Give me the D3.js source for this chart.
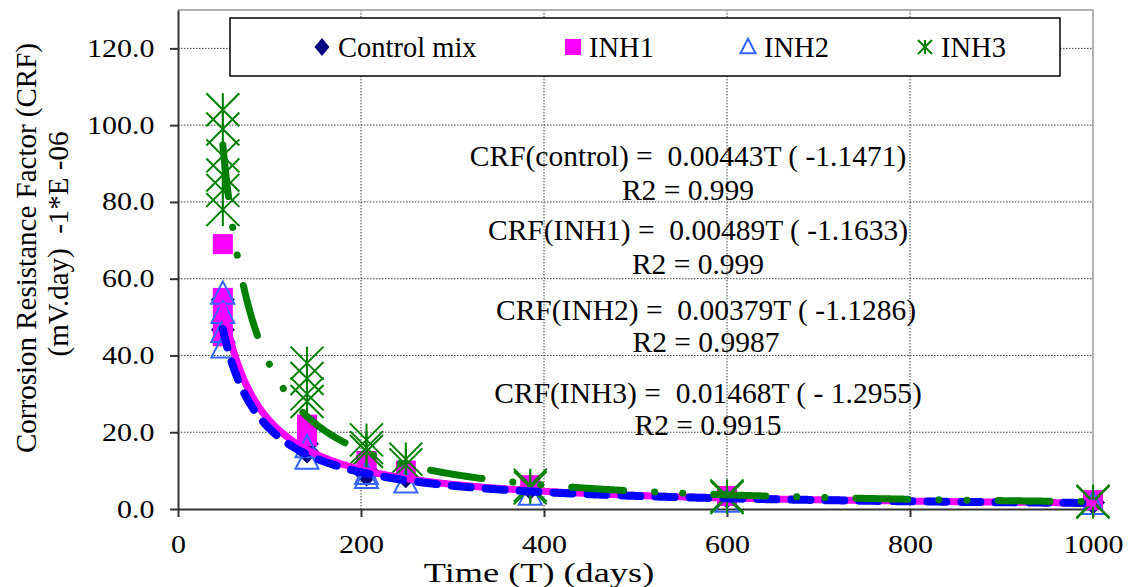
<!DOCTYPE html>
<html>
<head>
<meta charset="utf-8">
<script src="https://cdn.jsdelivr.net/npm/d3@7"></script>
<style>
	body { margin: 0; background: #fff; }
	text { font-family: "Liberation Serif", "Times New Roman", serif; fill: #000; }
</style>
</head>
<body>
<svg id="chart" width="1128" height="587"></svg>
<script>
// tick labels
const xTicks = [0, 200, 400, 600, 800, 1000];
const yTicks = [0, 20, 40, 60, 80, 100, 120];

const controlT   = [49, 49, 141, 141, 206, 206, 249, 385, 600, 1000];
const controlCRF = [54.5, 46.7, 17, 15, 10, 9, 8.5, 5.5, 3.2, 1.7];

const inh1T   = [49, 49, 49, 49, 141, 141, 206, 206, 249, 385, 600, 1000];
const inh1CRF = [69, 55, 50, 45, 22, 19, 12.5, 11.5, 10, 6.2, 3.4, 2.3];

const inh2T   = [49, 49, 49, 49, 141, 141, 206, 206, 249, 385, 600, 1000];
const inh2CRF = [56, 51, 46, 42, 16, 13, 9, 8, 6.8, 3.6, 1.8, 1.2];

const inh3T   = [49, 49, 49, 49, 49, 49, 141, 141, 141, 141, 206, 206, 206, 249, 249, 385, 385, 600, 600, 1000, 1000];
const inh3CRF = [104, 99, 92, 87, 83, 78, 38, 34, 30, 28, 18, 16, 15, 13, 11.5, 6.2, 5.5, 3.4, 3.0, 2.0, 1.8];

// power trendlines CRF = a * T^b, as printed on the chart
const fitA = [0.00443, 0.00489, 0.00379, 0.01468];
const fitB = [-1.1471, -1.1633, -1.1286, -1.2955];
const fitText = [
	"CRF(control) =  0.00443T ( -1.1471)",
	"CRF(INH1) =  0.00489T ( -1.1633)",
	"CRF(INH2) =  0.00379T ( -1.1286)",
	"CRF(INH3) =  0.01468T ( - 1.2955)"
];
const r2Text = ["R2 = 0.999", "R2 = 0.999", "R2 = 0.9987", "R2 = 0.9915"];

const seriesNames = ["Control mix", "INH1", "INH2", "INH3"];

const svg = d3.select("#chart");

const x = d3.scaleLinear().domain([0, 1000]).range([178, 1093]);
const y = d3.scaleLinear().domain([0, 130]).range([509, 10]);

// gridlines
const grid = svg.append("g")
	.attr("stroke", "#444")
	.attr("stroke-width", 1)
	.attr("stroke-dasharray", "1.5,1.5");
grid.selectAll(".gy").data(yTicks.slice(1)).enter()
	.append("line")
		.attr("x1", x(0)).attr("x2", x(1000))
		.attr("y1", (d) => y(d)).attr("y2", (d) => y(d));
grid.selectAll(".gx").data(xTicks.slice(1, -1)).enter()
	.append("line")
		.attr("x1", (d) => x(d)).attr("x2", (d) => x(d))
		.attr("y1", y(130)).attr("y2", y(0));

// plot border (top and right)
svg.append("path")
	.attr("d", `M${x(0)},${y(130)} H${x(1000)} V${y(0)}`)
	.attr("fill", "none")
	.attr("stroke", "#999")
	.attr("stroke-width", 1.5);

// axes
const tickScale = "scale(1.2,1)";
const yAxis = svg.append("g")
	.attr("transform", `translate(${x(0)},0)`)
	.call(d3.axisLeft(y).tickValues(yTicks).tickFormat(d3.format(".1f")).tickSize(8).tickSizeOuter(0));
yAxis.selectAll("text")
	.attr("x", -19.5)
	.attr("font-size", 25)
	.attr("transform", tickScale);

const xAxis = svg.append("g")
	.attr("transform", `translate(0,${y(0)})`)
	.call(d3.axisBottom(x).tickValues(xTicks).tickFormat(d3.format("d")).tickSize(8).tickSizeOuter(0));
xAxis.selectAll("text")
	.attr("y", 44)
	.attr("dy", 0)
	.attr("font-size", 25)
	.attr("transform", tickScale);

svg.selectAll(".domain, .tick line")
	.attr("stroke", "#333")
	.attr("stroke-width", 2);
svg.selectAll(".tick text").attr("font-family", null);

// axis titles
svg.append("text")
	.attr("transform", "translate(539,582) scale(1.32,1)")
	.attr("text-anchor", "middle")
	.attr("font-size", 27.5)
	.text("Time (T) (days)");

svg.append("text")
	.attr("transform", "translate(36,248) rotate(-90)")
	.attr("text-anchor", "middle")
	.attr("font-size", 29)
	.text("Corrosion Resistance Factor (CRF)");
svg.append("text")
	.attr("transform", "translate(68,244) rotate(-90)")
	.attr("text-anchor", "middle")
	.attr("font-size", 29)
	.style("white-space", "pre")
	.text("(mV.day)  -1*E -06");

// marker shapes
const diamond = (w, h) => `M0,${-h / 2}L${w / 2},0L0,${h / 2}L${-w / 2},0Z`;
const square = (s) => `M${-s / 2},${-s / 2}h${s}v${s}h${-s}Z`;
const triangle = (s) => `M0,${-s * 0.55}L${s / 2},${s * 0.42}L${-s / 2},${s * 0.42}Z`;
const star = (s) => {
	const h = s / 2;
	return `M${-h},${-h}L${h},${h}M${h},${-h}L${-h},${h}M0,${-h}L0,${h}`;
};

const styles = [
	{ d: diamond(24, 24), fill: "#000080", stroke: "none", sw: 0, legend: diamond(15, 18) },
	{ d: square(20), fill: "#ff00ff", stroke: "none", sw: 0, legend: square(16) },
	{ d: triangle(23), fill: "none", stroke: "#3366ff", sw: 2, legend: triangle(15) },
	{ d: star(33), fill: "none", stroke: "#008000", sw: 2, legend: star(14) }
];

const seriesT = [controlT, inh1T, inh2T, inh3T];
const seriesCRF = [controlCRF, inh1CRF, inh2CRF, inh3CRF];

// legend box
svg.append("rect")
	.attr("x", 230).attr("y", 18)
	.attr("width", 830).attr("height", 58)
	.attr("fill", "#fff")
	.attr("stroke", "#000")
	.attr("stroke-width", 1.5);

const legendMarkX = [322, 573, 748, 925];
seriesNames.forEach((name, i) => {
	svg.append("path")
		.attr("transform", `translate(${legendMarkX[i]},47)`)
		.attr("d", styles[i].legend)
		.attr("fill", styles[i].fill)
		.attr("stroke", styles[i].stroke)
		.attr("stroke-width", styles[i].sw);
	svg.append("text")
		.attr("x", legendMarkX[i] + 16)
		.attr("y", 57)
		.attr("font-size", 28.5)
		.text(name);
});

// data markers
seriesT.forEach((ts, i) => {
	const pts = ts.map((t, j) => [t, seriesCRF[i][j]]);
	svg.append("g").selectAll("path")
		.data(pts).enter()
		.append("path")
			.attr("transform", (d) => `translate(${x(d[0])},${y(d[1])})`)
			.attr("d", styles[i].d)
			.attr("fill", styles[i].fill)
			.attr("stroke", styles[i].stroke)
			.attr("stroke-width", styles[i].sw);
});

// trendlines
const lineStyles = [
	{ color: "#000000", width: 4, dash: null },
	{ color: "#ff00ff", width: 7, dash: null },
	{ color: "#0000ff", width: 8, dash: "19,15" },
	{ color: "#008000", width: 7, dash: "52,31,0.1,28,0.1,31" }
];
const line = d3.line()
	.x((d) => x(d[0]))
	.y((d) => y(d[1]));

fitA.forEach((a, i) => {
	const tStart = d3.min(seriesT[i]);
	const pts = d3.range(tStart, 1000.01, 1).map((t) => [t, a * Math.pow(t, fitB[i]) * 1e6]);
	svg.append("path")
		.datum(pts)
		.attr("d", line)
		.attr("fill", "none")
		.attr("stroke", lineStyles[i].color)
		.attr("stroke-width", lineStyles[i].width)
		.attr("stroke-linecap", "round")
		.attr("stroke-linejoin", "round")
		.attr("stroke-dasharray", lineStyles[i].dash);
});

// equation labels
const eqCenterX = [688, 698, 706, 708];
const eqBaseY = [166, 240, 320, 403];
const r2BaseY = [200, 274, 352, 435];
fitText.forEach((t, i) => {
	svg.append("text")
		.attr("x", eqCenterX[i]).attr("y", eqBaseY[i])
		.attr("text-anchor", "middle")
		.attr("font-size", 29.5)
		.style("white-space", "pre")
		.text(t);
	svg.append("text")
		.attr("x", eqCenterX[i]).attr("y", r2BaseY[i])
		.attr("text-anchor", "middle")
		.attr("font-size", 29.5)
		.text(r2Text[i]);
});
</script>
</body>
</html>
